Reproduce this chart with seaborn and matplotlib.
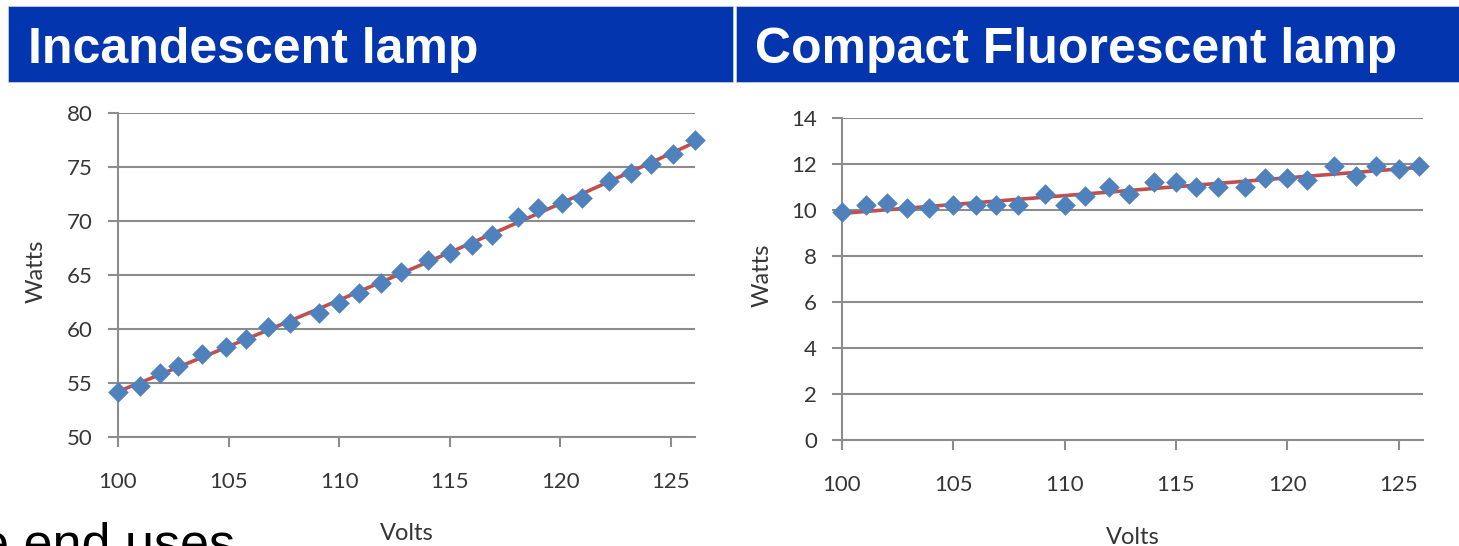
import matplotlib
matplotlib.use("Agg")
import matplotlib.pyplot as plt
from matplotlib.patches import Rectangle
import seaborn as sns

# Measured supply voltage (V) and power draw (W) for each lamp
incandescent_volts = [100.0, 101.0, 101.9, 102.7, 103.8, 104.9, 105.8, 106.8, 107.8,
                      109.1, 110.0, 110.9, 111.9, 112.8, 114.0, 115.0, 116.0, 116.9,
                      118.1, 119.0, 120.1, 121.0, 122.2, 123.2, 124.1, 125.1, 126.1]
incandescent_watts = [54.2, 54.7, 55.9, 56.6, 57.7, 58.3, 59.1, 60.2, 60.6,
                      61.5, 62.4, 63.3, 64.3, 65.3, 66.4, 67.0, 67.8, 68.7,
                      70.4, 71.2, 71.7, 72.1, 73.7, 74.4, 75.3, 76.2, 77.5]

cfl_volts = [100.0, 101.1, 102.0, 102.9, 103.9, 105.0, 106.0, 106.9, 107.9,
             109.1, 110.0, 110.9, 112.0, 112.9, 114.0, 115.0, 115.9, 116.9,
             118.1, 119.0, 120.0, 120.9, 122.1, 123.1, 124.0, 125.0, 125.9]
cfl_watts = [9.9, 10.2, 10.3, 10.1, 10.1, 10.2, 10.2, 10.2, 10.2,
             10.7, 10.2, 10.6, 11.0, 10.7, 11.2, 11.2, 11.0, 11.0,
             11.0, 11.4, 11.4, 11.3, 11.9, 11.5, 11.9, 11.8, 11.9]

titles = ["Incandescent lamp", "Compact Fluorescent lamp"]
volt_ticks = [100, 105, 110, 115, 120, 125]
incandescent_ticks = [50, 55, 60, 65, 70, 75, 80]
cfl_ticks = [0, 2, 4, 6, 8, 10, 12, 14]
footer_text = "e end uses"

BAR_BLUE = "#0336AE"
MARKER_BLUE = "#4F81BD"
TREND_RED = "#C0504D"
GRID_GRAY = "#8C8C8C"
LABEL_GRAY = "#363636"

sns.set_theme(style="white")
plt.rcParams["font.family"] = ["Lato", "DejaVu Sans"]

W, H = 1459, 546
fig = plt.figure(figsize=(W / 100, H / 100), dpi=100)


def px_box(x0, y0, x1, y1):
    """Convert a pixel box (top-left origin) to figure fractions."""
    return [x0 / W, 1 - y1 / H, (x1 - x0) / W, (y1 - y0) / H]


# Title banners
for (x0, x1, tx), title in zip([(8, 733, 28), (736, 1459, 755)], titles):
    fig.patches.append(Rectangle((x0 / W, 1 - 82 / H), (x1 - x0) / W, 76 / H,
                                 transform=fig.transFigure, facecolor=BAR_BLUE,
                                 edgecolor="#C8CCD8", linewidth=0.6, zorder=0))
    fig.text(tx / W, 1 - 63 / H, title, color="white", fontsize=36,
             fontweight="bold", family="Liberation Sans", va="baseline", ha="left")

panels = [
    dict(box=px_box(118, 113, 695, 437), x=incandescent_volts, y=incandescent_watts,
         ylim=(50, 80), yticks=incandescent_ticks, order=2, ylab_x=-0.123,
         xlab_y=-0.265),
    dict(box=px_box(842, 118, 1423, 440), x=cfl_volts, y=cfl_watts,
         ylim=(0, 14), yticks=cfl_ticks, order=1, ylab_x=-0.12, xlab_y=-0.27),
]

for p in panels:
    ax = fig.add_axes(p["box"])
    sns.regplot(x=p["x"], y=p["y"], order=p["order"], ci=None, scatter=False,
                truncate=True, ax=ax,
                line_kws=dict(color=TREND_RED, linewidth=2.6, zorder=2))
    sns.scatterplot(x=p["x"], y=p["y"], marker="D", s=110, color=MARKER_BLUE,
                    linewidth=0, ax=ax, zorder=3, clip_on=False)

    ax.set_xlim(100, 126.1)
    ax.set_ylim(*p["ylim"])
    ax.set_xticks(volt_ticks)
    ax.set_yticks(p["yticks"])

    ax.grid(axis="y", color=GRID_GRAY, linewidth=1.5)
    ax.grid(axis="x", visible=False)
    ax.set_axisbelow(True)
    for side in ("top", "right"):
        ax.spines[side].set_visible(False)
    for side in ("left", "bottom"):
        ax.spines[side].set_color(GRID_GRAY)
        ax.spines[side].set_linewidth(1.5)

    ax.tick_params(axis="both", direction="out", length=7, width=1.5,
                   color=GRID_GRAY, labelcolor=LABEL_GRAY, labelsize=16)
    ax.tick_params(axis="y", left=True, pad=11)
    ax.tick_params(axis="x", bottom=True, pad=18)

    ax.set_xlabel("Volts", fontsize=17, color=LABEL_GRAY)
    ax.set_ylabel("Watts", fontsize=17, color=LABEL_GRAY)
    ax.xaxis.set_label_coords(0.5, p["xlab_y"])
    ax.yaxis.set_label_coords(p["ylab_x"], 0.51)

# Slide body text running off the lower edge
fig.text(-20 / W, (H - 560) / H, footer_text, fontsize=37.5, color="black",
         family="Liberation Sans", ha="left", va="baseline")

fig.savefig("out.png", dpi=100)
